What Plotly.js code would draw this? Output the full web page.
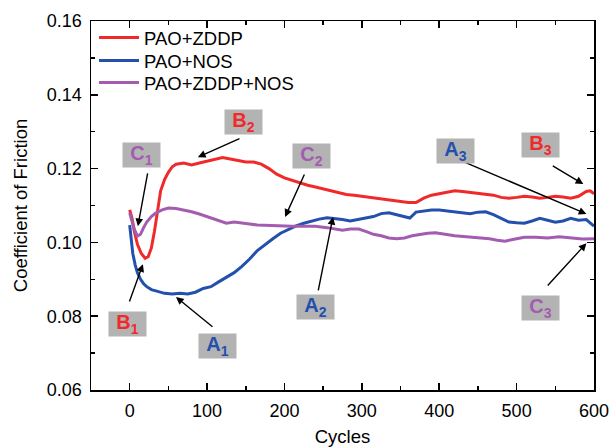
<!DOCTYPE html>
<html>
<head>
<meta charset="utf-8">
<script src="https://cdn.plot.ly/plotly-3.0.1.min.js"></script>
<style>html,body{margin:0;padding:0;background:#fff;}#chart{width:611px;height:447px;}</style>
</head>
<body>
<div id="chart"></div>
<script>
// ---- data ----
const seriesNames = ["PAO+ZDDP", "PAO+NOS", "PAO+ZDDP+NOS"];

const zddpCycles = [0,3,6,10,15,20,24,28,32,36,40,45,50,55,60,70,80,90,100,110,120,130,140,150,160,170,180,190,200,210,220,230,240,250,260,270,280,290,300,310,320,330,340,350,360,370,380,390,400,410,420,430,440,450,460,470,480,490,500,510,520,530,540,550,560,570,580,590,595,600];
const zddpCoF = [0.1088,0.1065,0.1030,0.0995,0.0970,0.0957,0.0962,0.0985,0.1030,0.1090,0.1140,0.1170,0.1190,0.1205,0.1212,0.1215,0.1210,0.1215,0.1220,0.1225,0.1230,0.1226,0.1222,0.1218,0.1218,0.1212,0.1200,0.1185,0.1175,0.1168,0.1160,0.1155,0.1150,0.1145,0.1140,0.1135,0.1130,0.1128,0.1125,0.1122,0.1120,0.1118,0.1115,0.1110,0.1108,0.1108,0.1120,0.1128,0.1132,0.1138,0.1140,0.1138,0.1135,0.1134,0.1130,0.1128,0.1122,0.1120,0.1122,0.1125,0.1123,0.1120,0.1122,0.1125,0.1123,0.1120,0.1125,0.1138,0.1140,0.1132];

const nosCycles = [0,2,4,7,10,14,18,22,28,35,45,55,65,75,85,95,105,115,125,135,145,155,165,175,185,195,205,215,225,235,245,255,265,275,285,295,305,315,325,335,345,355,362,370,380,390,400,410,420,430,440,450,460,470,480,490,500,510,520,530,540,550,560,570,580,590,600];
const nosCoF = [0.1047,0.1000,0.0970,0.0940,0.0918,0.0900,0.0888,0.0880,0.0872,0.0868,0.0862,0.0860,0.0862,0.0860,0.0865,0.0875,0.0880,0.0893,0.0905,0.0918,0.0935,0.0955,0.0978,0.0995,0.1010,0.1025,0.1035,0.1045,0.1052,0.1058,0.1063,0.1067,0.1065,0.1062,0.1058,0.1062,0.1068,0.1070,0.1078,0.1080,0.1075,0.1070,0.1066,0.1082,0.1085,0.1088,0.1088,0.1085,0.1082,0.1080,0.1078,0.1082,0.1083,0.1075,0.1065,0.1055,0.1053,0.1052,0.1058,0.1065,0.1060,0.1055,0.1058,0.1065,0.1060,0.1062,0.1044];

const mixCycles = [0,3,6,10,14,18,22,28,34,42,50,60,70,80,90,100,110,120,125,135,145,155,165,175,185,195,210,225,240,255,265,275,285,296,305,315,325,335,345,355,365,375,385,395,405,420,435,450,465,475,485,495,510,525,540,555,570,585,600];
const mixCoF = [0.1080,0.1060,0.1035,0.1017,0.1022,0.1040,0.1055,0.1070,0.1080,0.1088,0.1093,0.1092,0.1088,0.1083,0.1077,0.1070,0.1063,0.1055,0.1052,0.1055,0.1053,0.1050,0.1047,0.1046,0.1045,0.1044,0.1044,0.1044,0.1044,0.1040,0.1036,0.1033,0.1036,0.1036,0.1030,0.1022,0.1018,0.1012,0.1010,0.1012,0.1018,0.1022,0.1025,0.1026,0.1022,0.1018,0.1015,0.1013,0.1010,0.1006,0.1003,0.1008,0.1014,0.1014,0.1012,0.1015,0.1012,0.1009,0.1010];

const xTickVals = [0,100,200,300,400,500,600];
const yTickVals = [0.06,0.08,0.10,0.12,0.14,0.16];
const yTickText = ["0.06","0.08","0.10","0.12","0.14","0.16"];

// ---- labels with arrows
const labelNames = ["C","B","C","A","B","B","A","A","C"];
const labelSubs  = ["1","2","2","3","3","1","1","2","3"];
const labelSeries = [2,0,2,1,0,0,1,1,2];
const labelX = [15.8,147.6,235,421,530.6,-3,113.5,239.6,530.6];
const labelY = [0.1238,0.1326,0.1233,0.1249,0.1265,0.0779,0.0719,0.0824,0.0821];
const tailX = [23.5,143.8,226.6,432.2,544.8,-1,108.9,243.3,538.4];
const tailY = [0.1191,0.1283,0.1188,0.1218,0.1210,0.0836,0.0768,0.0866,0.0879];
const headX = [10.6,88.1,200.8,590.2,586.2,17.1,59.8,262.7,590.2];
const headY = [0.1044,0.1231,0.1069,0.1077,0.1158,0.0941,0.0852,0.1069,0.0998];

const colors = ["#f02a2a","#2350ac","#a45cb0"];
const FONT = 'Arial, "Liberation Sans", sans-serif';
const legendIds = ['legend','legend2','legend3'];
const legendY = [0.954,0.892,0.832];

const traces = [
  {x: zddpCycles, y: zddpCoF, name: seriesNames[0]},
  {x: nosCycles, y: nosCoF, name: seriesNames[1]},
  {x: mixCycles, y: mixCoF, name: seriesNames[2]}
].map((t,i)=>Object.assign(t,{type:'scatter',mode:'lines',legend:legendIds[i],line:{color:colors[i],width:3}}));

const annotations = [];
for (let i=0;i<labelNames.length;i++){
  annotations.push({
    x: headX[i], y: headY[i], ax: tailX[i], ay: tailY[i],
    xref:'x', yref:'y', axref:'x', ayref:'y',
    text:'', showarrow:true, arrowhead:2, arrowsize:1.1, arrowwidth:1.4, arrowcolor:'#000', standoff:0, startstandoff:0
  });
  annotations.push({
    x: labelX[i], y: labelY[i], xref:'x', yref:'y', showarrow:false,
    text:'<b>'+labelNames[i]+'<sub>'+labelSubs[i]+'</sub></b>',
    font:{family:FONT,size:20,color:colors[labelSeries[i]]},
    bgcolor:'#b3b3b3', width:37, height:24, borderpad:0, valign:'middle'
  });
}

const axisCommon = {
  showline:true, linecolor:'#000', linewidth:1.5, mirror:'ticks',
  ticks:'inside', ticklen:7, tickwidth:1.5, tickcolor:'#000',
  showgrid:false, zeroline:false, ticklabelstandoff:4,
  tickfont:{family:FONT,size:18,color:'#000'}
};

const layout = {
  width:611, height:447,
  margin:{l:91,r:17,t:21,b:57},
  paper_bgcolor:'#fff', plot_bgcolor:'#fff',
  font:{family:FONT,color:'#000'},
  showlegend:true,
  xaxis:Object.assign({}, axisCommon, {
    range:[-50,600], tickvals:xTickVals,
    minor:{dtick:50,tick0:0,ticks:'inside',ticklen:4,tickwidth:1.5,tickcolor:'#000',showgrid:false},
    title:{text:'Cycles',font:{family:FONT,size:18.5,color:'#000'},standoff:12}
  }),
  yaxis:Object.assign({}, axisCommon, {
    range:[0.06,0.16], tickvals:yTickVals, ticktext:yTickText,
    minor:{dtick:0.01,tick0:0.06,ticks:'inside',ticklen:4,tickwidth:1.5,tickcolor:'#000',showgrid:false},
    title:{text:'Coefficient of Friction',font:{family:FONT,size:18.5,color:'#000'},standoff:14}
  }),
  annotations: annotations
};
legendIds.forEach((id,i)=>{
  layout[id] = {x:0.006, y:legendY[i], xanchor:'left', yanchor:'middle', bgcolor:'rgba(0,0,0,0)',
    itemwidth:40, font:{family:FONT,size:18.5,color:'#000'}};
});

Plotly.newPlot('chart', traces, layout, {staticPlot:true, displayModeBar:false});
</script>
</body>
</html>
